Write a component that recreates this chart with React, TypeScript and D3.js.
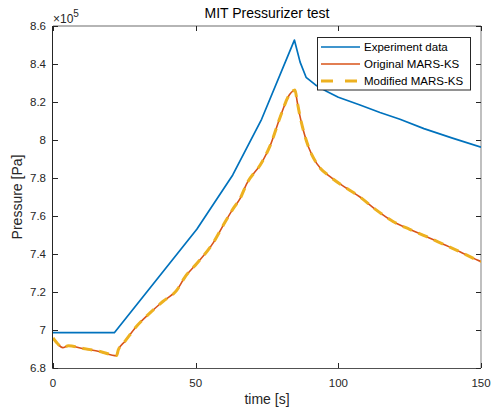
import React from "react";
import * as d3 from "d3";

const expT = [0, 21.5, 50.4, 63, 73.1, 84.6, 86.6, 88.7, 92, 96, 100, 107.6, 114.6, 121.6, 130, 140, 150];
const expP = [6.986, 6.986, 7.53, 7.816, 8.109, 8.526, 8.41, 8.33, 8.29, 8.255, 8.225, 8.184, 8.145, 8.109, 8.06, 8.01, 7.962];

const origT = [0, 1.5, 3.4, 5.4, 10.6, 16.5, 22.3, 22.9, 25.2, 29.3, 34, 38.5, 43.4, 46.3, 50.4, 56.2, 60, 63.2, 65.5, 67.9, 73.1, 76.1, 79.6, 82.8, 84.3, 84.8, 85.6, 86.5, 87.7, 89.5, 92.4, 97.1, 102.9, 107.6, 113, 119.3, 125, 131, 137, 142.6, 148.7, 150];
const origP = [6.956, 6.93, 6.907, 6.917, 6.902, 6.886, 6.865, 6.895, 6.94, 7.02, 7.09, 7.15, 7.21, 7.28, 7.35, 7.46, 7.56, 7.64, 7.69, 7.77, 7.88, 7.97, 8.12, 8.237, 8.26, 8.263, 8.2, 8.13, 8.053, 7.965, 7.877, 7.807, 7.746, 7.7, 7.635, 7.57, 7.53, 7.491, 7.45, 7.412, 7.368, 7.36];

const modT = [0, 1.5, 3.4, 5.4, 10.6, 16.5, 22.3, 22.9, 25.2, 29.3, 34, 38.5, 43.4, 46.3, 50.4, 56.2, 60, 63.2, 65.5, 67.9, 73.1, 76.1, 79.6, 82.8, 84.3, 84.8, 85.6, 86.5, 87.7, 89.5, 92.4, 97.1, 102.9, 107.6, 113, 119.3, 125, 131, 137, 142.6, 148.7, 150];
const modP = [6.958, 6.93, 6.908, 6.917, 6.903, 6.887, 6.866, 6.896, 6.94, 7.02, 7.09, 7.15, 7.21, 7.28, 7.35, 7.46, 7.56, 7.64, 7.69, 7.77, 7.88, 7.97, 8.12, 8.237, 8.26, 8.263, 8.2, 8.13, 8.053, 7.965, 7.877, 7.807, 7.746, 7.7, 7.635, 7.57, 7.53, 7.491, 7.45, 7.412, 7.368, 7.36];

const xTicks = [0, 50, 100, 150];
const yTicks = [6.8, 7, 7.2, 7.4, 7.6, 7.8, 8, 8.2, 8.4, 8.6];
const legendLabels = ["Experiment data", "Original MARS-KS", "Modified MARS-KS"];

const FONT = "'Liberation Sans', Arial, Helvetica, sans-serif";
const AX = "#262626";

export default function App() {
  const W = 492, H = 411;
  const L = 53, R = 481, T = 26, B = 368;
  const x = d3.scaleLinear().domain([0, 150]).range([L, R]);
  const y = d3.scaleLinear().domain([6.8, 8.6]).range([B, T]);
  const line = (ts: number[], ps: number[], smooth: boolean) =>
    d3
      .line<number>()
      .x((_, i) => x(ts[i]))
      .y((_, i) => y(ps[i]))
      .curve(smooth ? d3.curveMonotoneX : d3.curveLinear)(ts) || "";

  const series = [
    { d: line(expT, expP, false), color: "#0072BD", w: 1.7, dash: undefined as string | undefined },
    { d: line(origT, origP, true), color: "#D95319", w: 1.6, dash: undefined as string | undefined },
    { d: line(modT, modP, true), color: "#EDB120", w: 3, dash: "10,7" },
  ];

  const tickLen = 5;
  const lx = 317.5, ly = 37.5, lw = 153, lh = 52.5;

  return (
    <svg width={W} height={H} style={{ position: "absolute", left: 0, top: 0 }} fontFamily={FONT}>
      <rect x={0} y={0} width={W} height={H} fill="#fff" />
      <defs>
        <clipPath id="plot">
          <rect x={L} y={T} width={R - L} height={B - T} />
        </clipPath>
      </defs>
      {/* axes box */}
      <line x1={L} x2={R} y1={T} y2={T} stroke={AX} strokeOpacity={0.45} strokeWidth={1.3} />
      <line x1={R} x2={R} y1={T} y2={B} stroke={AX} strokeOpacity={0.45} strokeWidth={1.3} />
      <line x1={L - 0.5} x2={R} y1={B + 0.5} y2={B + 0.5} stroke={AX} strokeOpacity={0.8} />
      <line x1={L - 0.5} x2={L - 0.5} y1={T} y2={B + 0.5} stroke={AX} />
      {/* ticks */}
      {xTicks.map((t) => (
        <g key={"xt" + t}>
          <line x1={Math.round(x(t)) + 0.5} x2={Math.round(x(t)) + 0.5} y1={B} y2={B - tickLen} stroke={AX} />
          <line x1={Math.round(x(t)) + 0.5} x2={Math.round(x(t)) + 0.5} y1={T} y2={T + tickLen} stroke={AX} />
          <text x={x(t)} y={387} textAnchor="middle" fontSize={11.5} fill={AX}>
            {t}
          </text>
        </g>
      ))}
      {yTicks.map((t) => (
        <g key={"yt" + t}>
          <line x1={L} x2={L + tickLen} y1={Math.round(y(t)) + 0.5} y2={Math.round(y(t)) + 0.5} stroke={AX} />
          <line x1={R} x2={R - tickLen} y1={Math.round(y(t)) + 0.5} y2={Math.round(y(t)) + 0.5} stroke={AX} />
          <text x={46} y={y(t) + 4} textAnchor="end" fontSize={11.5} fill={AX}>
            {t === 7 || t === 8 ? String(t) : t.toFixed(1)}
          </text>
        </g>
      ))}
      {/* exponent */}
      <text x={53} y={23} fontSize={12} fill={AX}>
        ×10<tspan dy={-6} fontSize={10}>5</tspan>
      </text>
      {/* series */}
      <g clipPath="url(#plot)">
        {series.map((s, i) => (
          <path key={i} d={s.d} fill="none" stroke={s.color} strokeWidth={s.w} strokeDasharray={s.dash} strokeLinejoin="round" />
        ))}
      </g>
      {/* title & labels */}
      <text x={267} y={18} textAnchor="middle" fontSize={14} fill="#000">
        MIT Pressurizer test
      </text>
      <text x={267} y={404} textAnchor="middle" fontSize={14} fill={AX}>
        time [s]
      </text>
      <text transform={`translate(22,197) rotate(-90)`} textAnchor="middle" fontSize={14} fill={AX}>
        Pressure [Pa]
      </text>
      {/* legend */}
      <rect x={lx} y={ly} width={lw} height={lh} fill="#fff" stroke={AX} strokeWidth={1} />
      {legendLabels.map((lab, i) => {
        const cy = 47 + i * 17;
        const s = series[i];
        return (
          <g key={lab}>
            <line x1={321} x2={360} y1={cy} y2={cy} stroke={s.color} strokeWidth={s.w} strokeDasharray={s.dash ? "12,12" : undefined} />
            <text x={364} y={cy + 4} fontSize={11.5} fill="#000">
              {lab}
            </text>
          </g>
        );
      })}
    </svg>
  );
}
